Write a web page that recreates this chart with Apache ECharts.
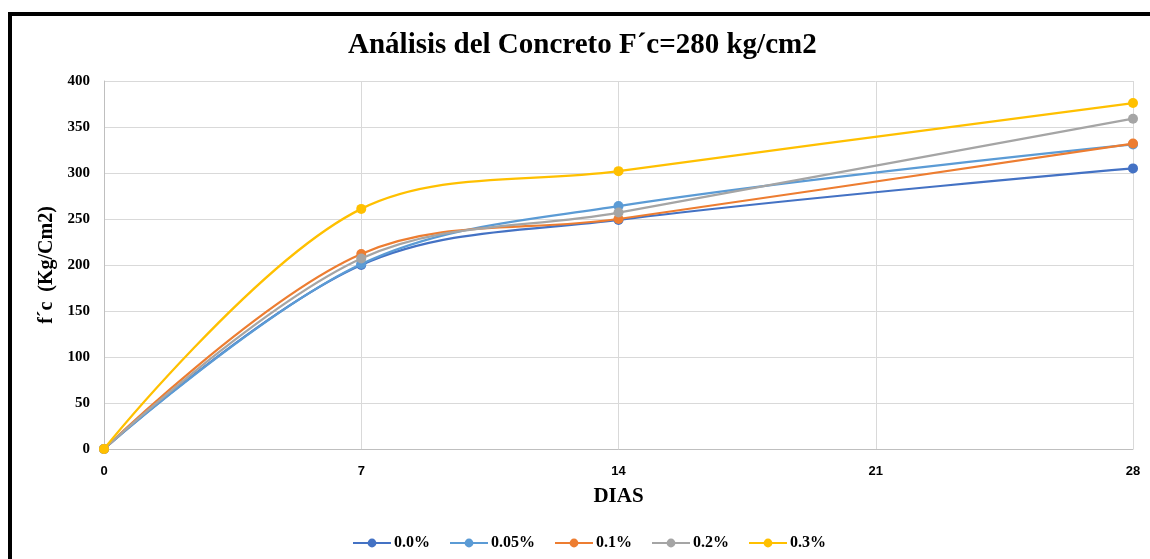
<!DOCTYPE html>
<html>
<head>
<meta charset="utf-8">
<script src="https://cdn.jsdelivr.net/npm/echarts@6/dist/echarts.min.js"></script>
<style>
html,body{margin:0;padding:0;background:#fff;}
#frame{position:absolute;left:8px;top:12px;width:1142px;height:547px;border-top:4px solid #000;border-left:4px solid #000;box-sizing:border-box;}
#chart{position:absolute;left:0;top:0;width:1150px;height:559px;}
</style>
</head>
<body>
<div id="frame"></div>
<div id="chart"></div>
<script>
const days = [0, 7, 14, 21, 28];
const seriesNames = ['0.0%', '0.05%', '0.1%', '0.2%', '0.3%'];
const s00  = [[0, 0], [7, 200], [14, 249], [28, 305]];
const s005 = [[0, 0], [7, 201], [14, 264], [28, 331]];
const s01  = [[0, 0], [7, 212], [14, 250], [28, 332]];
const s02  = [[0, 0], [7, 207], [14, 257], [28, 359]];
const s03  = [[0, 0], [7, 261], [14, 302], [28, 376]];
const colors = ['#4472C4', '#5B9BD5', '#ED7D31', '#A5A5A5', '#FFC000'];
const allData = [s00, s005, s01, s02, s03];

const chart = echarts.init(document.getElementById('chart'));
chart.setOption({
  animation: false,
  title: {
    text: 'Análisis del Concreto F´c=280 kg/cm2',
    left: 343, top: 26,
    textStyle: {fontFamily: 'Liberation Serif', fontWeight: 'bold', fontSize: 29, color: '#000'}
  },
  legend: {
    bottom: 3, left: 347,
    itemWidth: 38, itemHeight: 11, itemGap: 19,
    textStyle: {fontFamily: 'Liberation Serif', fontWeight: 'bold', fontSize: 16, color: '#000', padding: [0, 0, 0, -2]},
    data: seriesNames
  },
  grid: {left: 104, right: 17, top: 81, bottom: 110},
  xAxis: {
    type: 'value', min: 0, max: 28, interval: 7,
    name: 'DIAS', nameLocation: 'middle', nameGap: 37,
    nameTextStyle: {fontFamily: 'Liberation Serif', fontWeight: 'bold', fontSize: 21, color: '#000'},
    axisLine: {lineStyle: {color: '#BFBFBF', width: 1}},
    axisTick: {show: false},
    axisLabel: {fontFamily: 'Liberation Sans', fontWeight: 'bold', fontSize: 13, color: '#000', margin: 16},
    splitLine: {show: true, lineStyle: {color: '#D9D9D9', width: 1}}
  },
  yAxis: {
    type: 'value', min: 0, max: 400, interval: 50,
    name: 'f´c  (Kg/Cm2)', nameLocation: 'middle', nameGap: 46, nameRotate: 90,
    nameTextStyle: {fontFamily: 'Liberation Serif', fontWeight: 'bold', fontSize: 20, color: '#000'},
    axisLine: {show: true, lineStyle: {color: '#BFBFBF', width: 1}},
    axisTick: {show: false},
    axisLabel: {fontFamily: 'Liberation Serif', fontWeight: 'bold', fontSize: 15, color: '#000', margin: 14},
    splitLine: {show: true, lineStyle: {color: '#D9D9D9', width: 1}}
  },
  series: seriesNames.map((n, i) => ({
    name: n, type: 'line', data: allData[i], smooth: 0.35,
    symbol: 'circle', symbolSize: 10,
    lineStyle: {color: colors[i], width: 2.25},
    itemStyle: {color: colors[i]},
    z: 2 + i
  }))
});
</script>
</body>
</html>
